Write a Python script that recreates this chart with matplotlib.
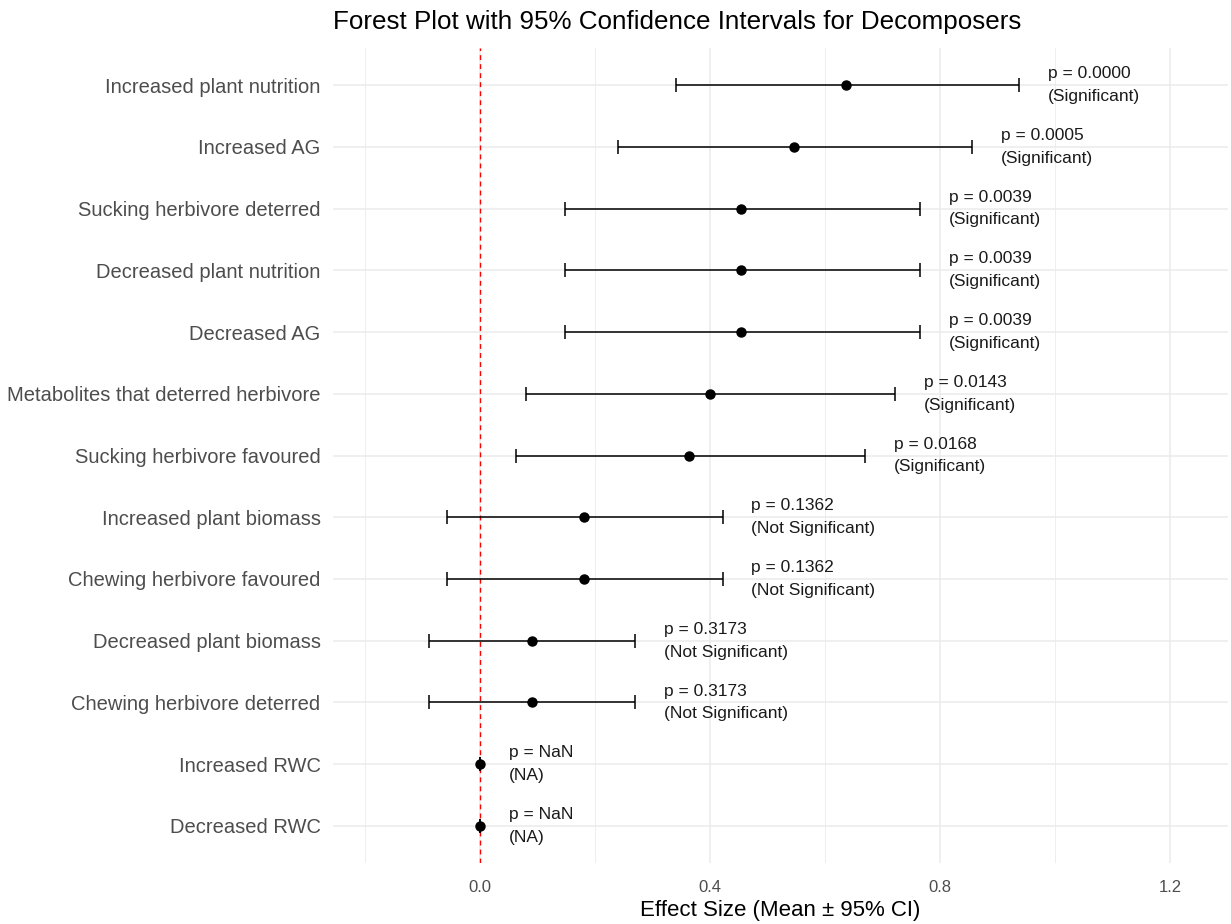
import matplotlib
matplotlib.use("Agg")
import matplotlib.pyplot as plt
import numpy as np

plt.rcParams['font.family'] = ['Liberation Sans', 'DejaVu Sans']

categories = [
    "Increased plant nutrition", "Increased AG", "Sucking herbivore deterred",
    "Decreased plant nutrition", "Decreased AG", "Metabolites that deterred herbivore",
    "Sucking herbivore favoured", "Increased plant biomass", "Chewing herbivore favoured",
    "Decreased plant biomass", "Chewing herbivore deterred", "Increased RWC", "Decreased RWC",
]
means = [0.637, 0.546, 0.4535, 0.4535, 0.4535, 0.400, 0.363, 0.181, 0.181, 0.0907, 0.0907, 0.0, 0.0]
lower = [0.340, 0.239, 0.148, 0.148, 0.148, 0.080, 0.063, -0.058, -0.058, -0.089, -0.089, 0.0, 0.0]
upper = [0.937, 0.856, 0.766, 0.766, 0.766, 0.722, 0.670, 0.422, 0.422, 0.270, 0.270, 0.0, 0.0]
p_labels = ["p = 0.0000", "p = 0.0005", "p = 0.0039", "p = 0.0039", "p = 0.0039", "p = 0.0143",
            "p = 0.0168", "p = 0.1362", "p = 0.1362", "p = 0.3173", "p = 0.3173", "p = NaN", "p = NaN"]
sig_labels = ["(Significant)"] * 7 + ["(Not Significant)"] * 4 + ["(NA)"] * 2
x_ticks = [0.0, 0.4, 0.8, 1.2]
x_minor = [-0.2, 0.2, 0.6, 1.0]

W, H = 1231, 924
fig = plt.figure(figsize=(W / 100, H / 100), dpi=100)
left, right, top, bottom = 333, 1228, 48, 863
ax = fig.add_axes([left / W, 1 - bottom / H, (right - left) / W, (bottom - top) / H])

n = len(categories)
ypos = np.arange(n)[::-1]
means_a = np.array(means)
lo = np.array(lower)
hi = np.array(upper)

ax.set_xlim(-0.256, 1.301)
ax.set_ylim(-0.6, n - 1 + 0.6)

# grid
for xv in x_ticks:
    ax.axvline(xv, color="#EBEBEB", lw=1.1, zorder=0)
for xv in x_minor:
    ax.axvline(xv, color="#EBEBEB", lw=0.6, zorder=0)
for yv in ypos:
    ax.axhline(yv, color="#EBEBEB", lw=1.1, zorder=0)

ax.axvline(0, color="red", lw=1.0, ls=(0, (3.5, 3)), zorder=1)

ax.errorbar(means_a, ypos, xerr=[means_a - lo, hi - means_a], fmt="none",
            ecolor="black", elinewidth=1.1, capsize=5.2, capthick=1.1, zorder=2)
ax.plot(means_a, ypos, "o", color="black", ms=6.5, zorder=3)

for i in range(n):
    ax.text(hi[i] + 0.05, ypos[i], p_labels[i] + "\n" + sig_labels[i],
            ha="left", va="center", fontsize=12.5, color="#1A1A1A", linespacing=1.65)

ax.set_yticks(ypos)
ax.set_yticklabels(categories, fontsize=14.5, color="#4D4D4D")
ax.set_xticks(x_ticks)
ax.set_xticklabels(["0.0", "0.4", "0.8", "1.2"], fontsize=12, color="#4D4D4D")
ax.tick_params(length=0, pad=9)
ax.tick_params(axis="x", pad=12)
for s in ax.spines.values():
    s.set_visible(False)

ax.set_xlabel("Effect Size (Mean ± 95% CI)", fontsize=16, color="black", labelpad=4)
fig.text(677 / W, 1 - 22 / H, "Forest Plot with 95% Confidence Intervals for Decomposers",
         ha="center", va="center", fontsize=18.7, color="black")

fig.savefig("out.png", dpi=100)
